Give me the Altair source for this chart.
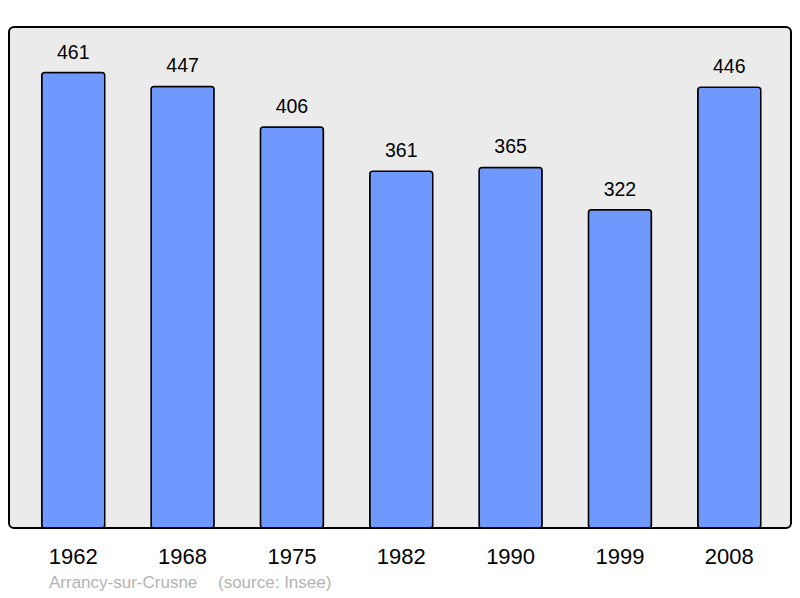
import altair as alt
import pandas as pd

years = ["1962", "1968", "1975", "1982", "1990", "1999", "2008"]
population = [461, 447, 406, 361, 365, 322, 446]
place = ["Arrancy-sur-Crusne"]
source = ["(source: Insee)"]

df = pd.DataFrame({"year": years, "pop": population})
FONT = "Liberation Sans"

x = alt.X("year:N", sort=years, title=None,
          scale=alt.Scale(paddingInner=0.424, paddingOuter=0.288, align=0.52),
          axis=alt.Axis(labelAngle=0, labelFontSize=22, labelColor="black",
                        labelFont=FONT, domain=False, ticks=False, labelPadding=18))
y = alt.Y("pop:Q", title=None, scale=alt.Scale(domain=[0, 507.1], nice=False, zero=True),
          axis=None)

bars = alt.Chart(df).mark_bar(color="#7099ff", stroke="black", strokeWidth=1.5,
                              cornerRadius=3).encode(x=x, y=y)
labels = alt.Chart(df).mark_text(baseline="bottom", dy=-10, fontSize=19.5,
                                 font=FONT, color="black").encode(x=x, y=y, text="pop:Q")

t1 = alt.Chart(pd.DataFrame({"t": place})).mark_text(
    align="left", baseline="middle", fontSize=17, font=FONT, color="#b3b3b3"
).encode(x=alt.value(40), y=alt.value(556), text="t:N")
t2 = alt.Chart(pd.DataFrame({"t": source})).mark_text(
    align="left", baseline="middle", fontSize=17, font=FONT, color="#b3b3b3"
).encode(x=alt.value(209), y=alt.value(556), text="t:N")

chart = alt.layer(bars, labels, t1, t2).properties(
    width=782, height=501,
    autosize=alt.AutoSizeParams(type="none"),
    padding={"left": 1, "top": 19, "right": 1, "bottom": 68},
    background="white",
).configure_view(fill="#ebebeb", stroke="black", strokeWidth=2, cornerRadius=5)

chart.save("out.html", embed_options={"renderer": "svg", "actions": False})
